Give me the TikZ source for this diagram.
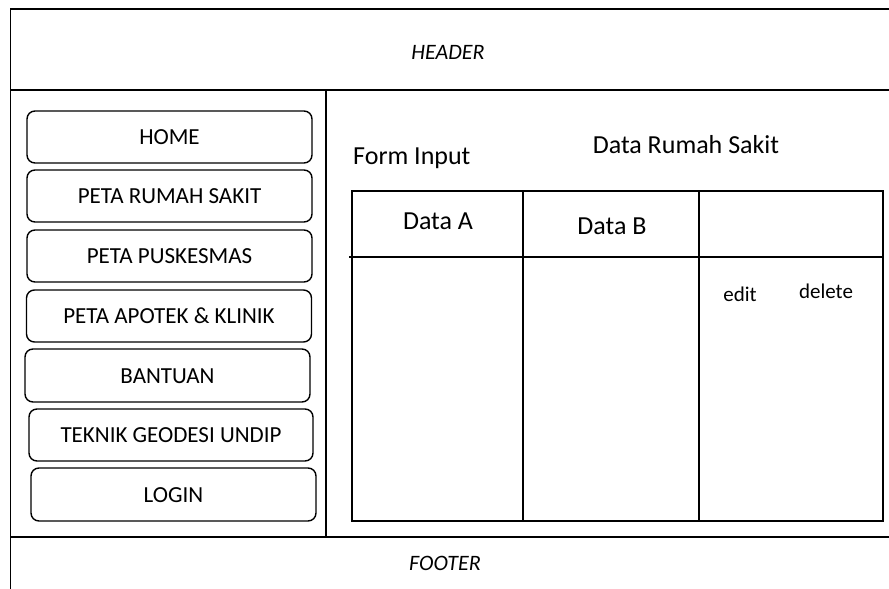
\documentclass[tikz,border=0pt]{standalone}
\usepackage{fontspec}
\setmainfont{Carlito}
\begin{document}
\begin{tikzpicture}[x=1pt,y=-1pt,
  frame/.style={line width=1.8pt, line cap=rect},
  tbl/.style={line width=1.6pt},
  btn/.style={draw, line width=1.4pt, rounded corners=8pt, minimum width=285pt, minimum height=52pt, inner sep=0pt, font=\fontsize{23}{26}\selectfont, text height=15pt, text depth=-4pt},
  big/.style={font=\fontsize{26}{30}\selectfont, anchor=base, inner sep=0pt},
  small/.style={font=\fontsize{21}{24}\selectfont, anchor=base, inner sep=0pt},
  ital/.style={font=\fontsize{22}{26}\selectfont\itshape, anchor=base, inner sep=0pt}]
\useasboundingbox (0,0) rectangle (889,589);
% frame
\draw[frame] (889,9) -- (10.5,9) -- (10.5,589);
\draw[frame] (10.5,90) -- (889,90);
\draw[frame] (10.5,537) -- (889,537);
\draw[frame] (326,90) -- (326,537);
\node[ital] (header) at (448,59) {HEADER};
\node[ital] (footer) at (445,570) {FOOTER};
% menu buttons
\node[btn] (home) at (169.5,137) {HOME};
\node[btn] (rs) at (169.5,196) {PETA RUMAH SAKIT};
\node[btn] (pusk) at (169.5,256) {PETA PUSKESMAS};
\node[btn] (apotek) at (169,316) {PETA APOTEK \& KLINIK};
\node[btn, minimum height=53pt] (bantuan) at (167.5,375.5) {BANTUAN};
\node[btn, minimum width=284pt] (teknik) at (171,435) {TEKNIK GEODESI UNDIP};
\node[btn, minimum height=53pt] (login) at (173.5,494.5) {LOGIN};
% content
\node[big, anchor=base west] (form) at (353,164) {Form Input};
\node[big] (judul) at (686,153) {Data Rumah Sakit};
\draw[tbl] (352,191) rectangle (883,521);
\draw[tbl] (349,257) -- (883,257);
\draw[tbl] (523,191) -- (523,521);
\draw[tbl] (699,191) -- (699,521);
\node[big] (dataA) at (438,229) {Data A};
\node[big] (dataB) at (612,234) {Data B};
\node[small] (edit) at (740,301) {edit};
\node[small] (delete) at (826,298) {delete};
\end{tikzpicture}
\end{document}
